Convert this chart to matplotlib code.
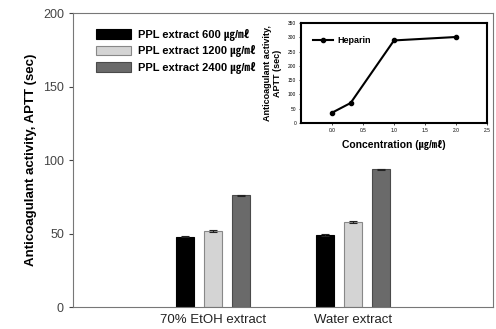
import matplotlib
matplotlib.use("Agg")
import matplotlib.pyplot as plt
import numpy as np

# 바 차트 데이터
groups = ['70% EtOH extract', 'Water extract']
labels = ['PPL extract 600 ㎍/㎖', 'PPL extract 1200 ㎍/㎖', 'PPL extract 2400 ㎍/㎖']
aptt_600 = [47.8, 49.0]
aptt_1200 = [51.8, 57.6]
aptt_2400 = [76.0, 93.8]
err_600 = [0.4, 0.4]
err_1200 = [0.5, 0.6]
err_2400 = [0.5, 0.4]

# 헤파린 inset 데이터
heparin_conc = [0.0, 0.3, 1.0, 2.0]
heparin_aptt = [36, 70, 289, 301]

fam = ['Liberation Sans', 'Noto Sans CJK SC', 'DejaVu Sans']
plt.rcParams['font.family'] = fam

fig = plt.figure(figsize=(4.96, 3.29), dpi=100)
ax = fig.add_axes([73/496, 1 - 307/329, 420/496, 294/329])

x = np.arange(len(groups))
w = 0.125
off = 0.2
colors = ['#000000', '#d4d4d4', '#6a6a6a']
edges = ['#000000', '#888888', '#4a4a4a']
series = [aptt_600, aptt_1200, aptt_2400]
errs = [err_600, err_1200, err_2400]
for i in range(3):
    ax.bar(x + (i - 1) * off, series[i], width=w, color=colors[i], edgecolor=edges[i],
           linewidth=0.8, label=labels[i], yerr=errs[i], capsize=3,
           error_kw=dict(ecolor='#222222', elinewidth=0.8, capthick=0.8))

ax.set_xlim(-1, 2)
ax.set_ylim(0, 200)
ax.set_yticks([0, 50, 100, 150, 200])
ax.set_xticks(x)
ax.set_xticklabels(groups)
ax.tick_params(axis='x', length=0, labelsize=9.5, colors='#222222', pad=5)
ax.tick_params(axis='y', length=3, labelsize=9, colors='#444444', width=0.8)
for s in ax.spines.values():
    s.set_color('#777777')
    s.set_linewidth(0.8)
ax.set_ylabel('Anticoagulant activity, APTT (sec)', fontsize=9.5, fontweight='bold', labelpad=4)

leg = ax.legend(loc='upper left', bbox_to_anchor=(0.03, 0.98), frameon=False,
                prop=dict(family=fam, weight='bold', size=8), handlelength=3.2,
                handleheight=0.9, labelspacing=0.4, handletextpad=0.6)

# inset
ins = fig.add_axes([301/496, 1 - 123/329, 186/496, 100/329])
ins.plot(heparin_conc, heparin_aptt, color='black', lw=1.5, marker='o', ms=3, label='Heparin')
ins.set_xlim(-0.5, 2.5)
ins.set_ylim(0, 350)
ins.set_xticks([0.0, 0.5, 1.0, 1.5, 2.0, 2.5])
ins.set_yticks(range(0, 351, 50))
ins.tick_params(labelsize=3.5, length=1.5, width=0.5, pad=2)
for s in ins.spines.values():
    s.set_linewidth(1.5)
ins.set_xlabel('Concentration (㎍/㎖)', fontsize=7.5, fontweight='bold', labelpad=5)
ins.set_ylabel('Anticoagulant activity,\nAPTT (sec)', fontsize=6.5, fontweight='bold', labelpad=4)
ins.legend(loc='upper left', bbox_to_anchor=(0.02, 0.95), frameon=False,
           prop=dict(family=fam, weight='bold', size=6.5), handlelength=2.2, handletextpad=0.5)

fig.savefig('out.png', dpi=100)
